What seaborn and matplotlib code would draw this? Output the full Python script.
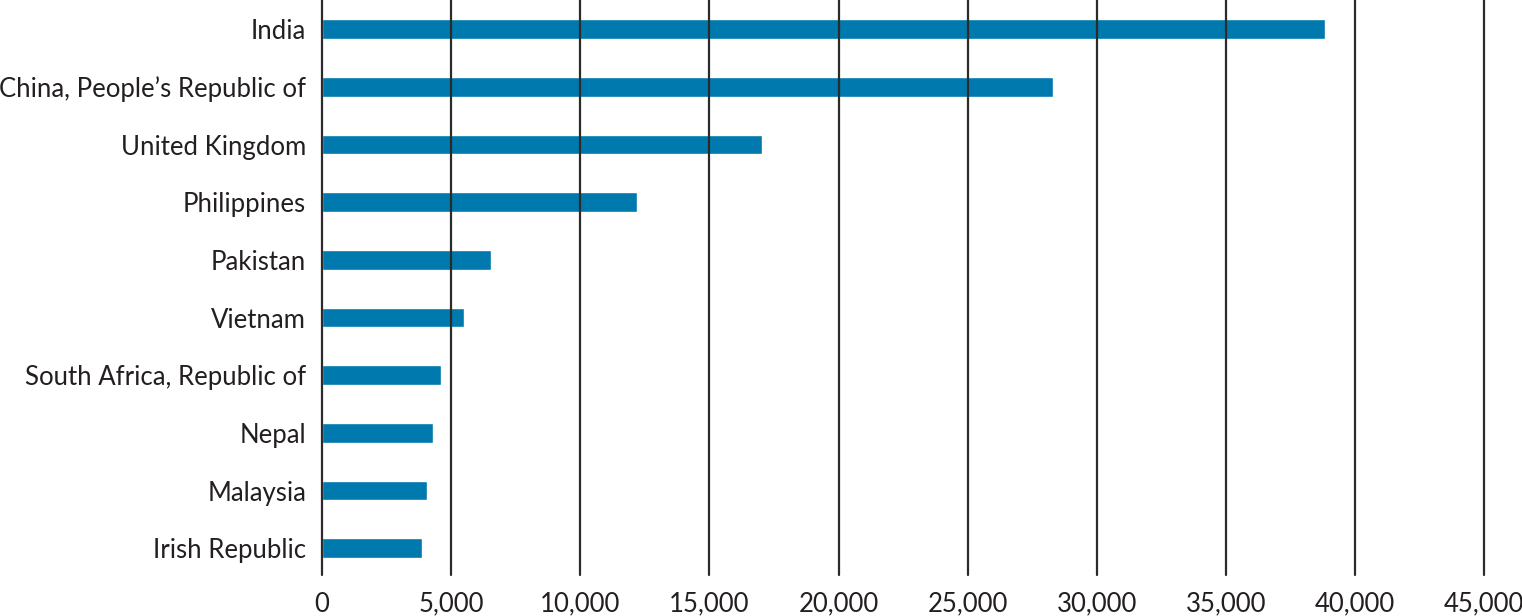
import matplotlib
matplotlib.use("Agg")
import matplotlib.pyplot as plt
import seaborn as sns
import pandas as pd
from matplotlib.ticker import FuncFormatter

countries = ["India", "China, People\u2019s Republic of", "United Kingdom", "Philippines",
             "Pakistan", "Vietnam", "South Africa, Republic of", "Nepal", "Malaysia",
             "Irish Republic"]
values = [38850, 28300, 17030, 12200, 6550, 5480, 4590, 4280, 4050, 3860]
x_ticks = [0, 5000, 10000, 15000, 20000, 25000, 30000, 35000, 40000, 45000]

df = pd.DataFrame({"Country": countries, "Value": values})

sns.set_style("white")
plt.rcParams["font.family"] = ["Lato", "DejaVu Sans"]

text_color = "#231f20"
bar_color = "#0079ae"

fig = plt.figure(figsize=(15.22, 6.16), dpi=100)
ax = fig.add_axes([322 / 1522, 1 - 575 / 616, (1484.3 - 322) / 1522, 575 / 616])

sns.barplot(data=df, x="Value", y="Country", orient="h", color=bar_color,
            width=0.34, saturation=1, ax=ax)

ax.set_xlim(0, 45000)
ax.set_ylim(9.463, -0.508)
ax.set_xticks(x_ticks)
ax.xaxis.set_major_formatter(FuncFormatter(lambda v, p: f"{int(v):,}"))
ax.set_xlabel("")
ax.set_ylabel("")

for s in ax.spines.values():
    s.set_visible(False)

ax.set_axisbelow(False)
ax.grid(axis="x", color="#2b2b2b", linewidth=1.6)
ax.grid(axis="y", visible=False)
for gl in ax.get_xgridlines():
    gl.set_clip_on(False)
    gl.set_zorder(0.5)

ax.tick_params(axis="both", length=0, labelsize=18.5, colors=text_color)
ax.tick_params(axis="y", pad=11.5)
ax.tick_params(axis="x", pad=12)

fig.savefig("out.png", dpi=100)
